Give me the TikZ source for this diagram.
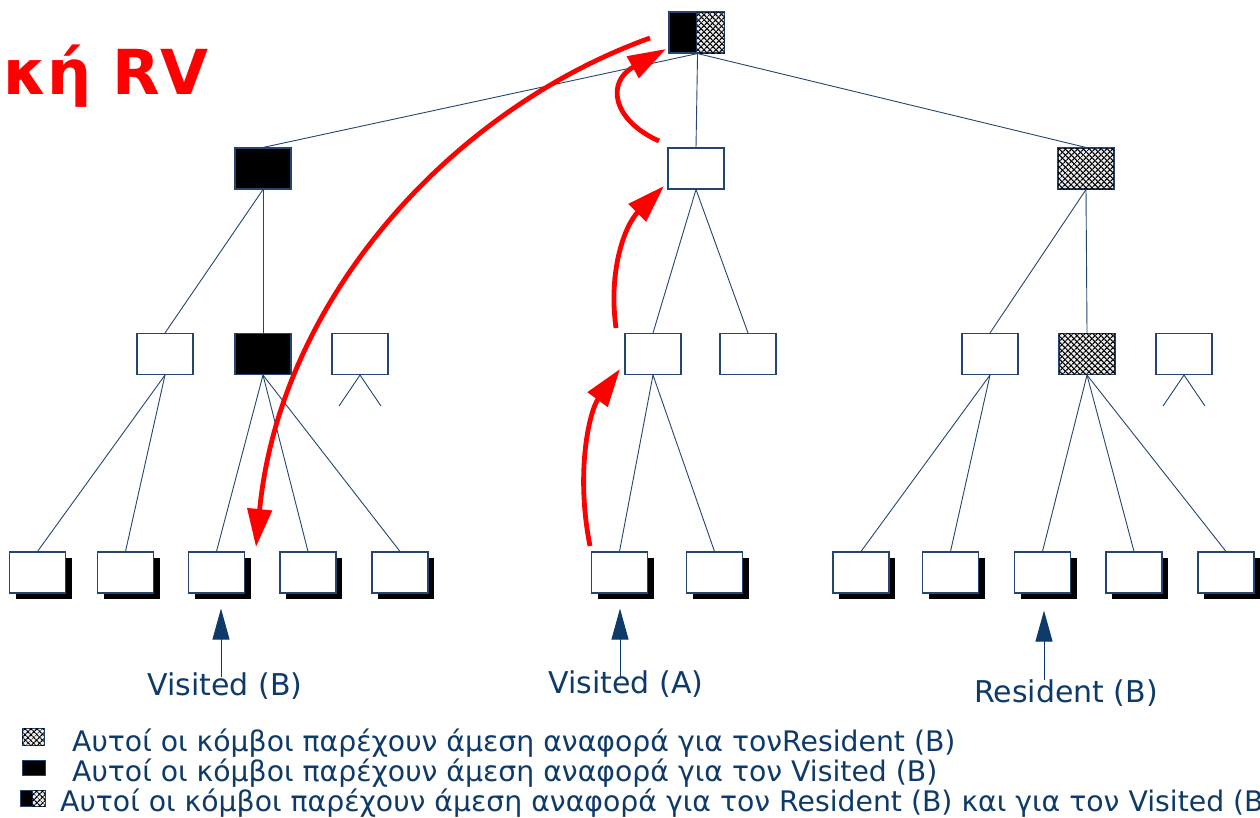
\documentclass[tikz,border=0pt]{standalone}
\usepackage{fontspec}
\setmainfont{DejaVu Sans}
\usetikzlibrary{arrows.meta,shadows,patterns.meta}
\definecolor{navy}{HTML}{0E3A6A}
\definecolor{edgeblue}{HTML}{24456F}

\begin{document}
\begin{tikzpicture}[x=1pt,y=-1pt,
  box/.style={draw=edgeblue,line width=1.1pt,fill=white,minimum width=56pt,minimum height=41pt,inner sep=0pt},
  blackbox/.style={box,fill=black},
  hatchbox/.style={box,fill=gray!15,postaction={pattern={Lines[angle=45,distance=4pt,line width=1.3pt]}},
    postaction={pattern={Lines[angle=-45,distance=4pt,line width=1.3pt]}}},
  leaf/.style={box,drop shadow={shadow xshift=6pt,shadow yshift=-6pt,shadow scale=1,fill=black,opacity=1}},
  edge/.style={draw=edgeblue,line width=0.9pt},
  hop/.style={draw=red,line width=4.8pt,-{Triangle[length=38pt,width=24pt]}},
  ptr/.style={draw=navy,line width=1pt,-{Triangle[length=31pt,width=17pt]}},
  lbl/.style={text=navy,inner sep=0pt,font=\fontsize{30}{36}\selectfont},
  note/.style={text=navy,inner sep=0pt,anchor=base west,font=\fontsize{28.3}{32}\selectfont}]
  \useasboundingbox (0,0) rectangle (1260,817);
  \clip (0,0) rectangle (1260,817);

  \node[text=red,anchor=west,inner sep=0pt,font=\fontsize{62}{70}\selectfont\bfseries] (ttl) at (3,76) {κή RV};

  % root, half black half hatched
  \node[blackbox,minimum width=28pt] (rootb) at (683,32.5) {};
  \node[hatchbox,minimum width=28pt] (rooth) at (710.5,32.5) {};
  \coordinate (root) at (rootb.south east);

  % level 1
  \node[blackbox] (a) at (263,168.5) {};
  \node[box] (b) at (696,168.5) {};
  \node[hatchbox] (c) at (1086,168.5) {};

  % level 2
  \node[box] (a1) at (165,354) {};
  \node[blackbox] (a2) at (263,354) {};
  \node[box] (a3) at (360,354) {};
  \node[box] (b1) at (653,354) {};
  \node[box] (b2) at (748,354) {};
  \node[box] (c1) at (990,354) {};
  \node[hatchbox] (c2) at (1087,354) {};
  \node[box] (c3) at (1184,354) {};

  % leaves
  \node[leaf] (a11) at (37.5,572.5) {};
  \node[leaf] (a12) at (125.5,572.5) {};
  \node[leaf] (a21) at (216.5,572.5) {};
  \node[leaf] (a22) at (308,572.5) {};
  \node[leaf] (a23) at (400,572.5) {};
  \node[leaf] (b11) at (619.5,572.5) {};
  \node[leaf] (b12) at (714.5,572.5) {};
  \node[leaf] (c11) at (861,572.5) {};
  \node[leaf] (c12) at (950.5,572.5) {};
  \node[leaf] (c21) at (1042.5,572.5) {};
  \node[leaf] (c22) at (1134,572.5) {};
  \node[leaf] (c23) at (1226,572.5) {};

  \draw[edge] (root) -- (a.north);
  \draw[edge] (root) -- (b.north);
  \draw[edge] (root) -- (c.north);
  \draw[edge] (a.south) -- (a1.north);
  \draw[edge] (a.south) -- (a2.north);
  \draw[edge] (b.south) -- (b1.north);
  \draw[edge] (b.south) -- (b2.north);
  \draw[edge] (c.south) -- (c1.north);
  \draw[edge] (c.south) -- (c2.north);
  \draw[edge] (a1.south) -- (a11.north);
  \draw[edge] (a1.south) -- (a12.north);
  \draw[edge] (a2.south) -- (a21.north);
  \draw[edge] (a2.south) -- (a22.north);
  \draw[edge] (a2.south) -- (a23.north);
  \draw[edge] (b1.south) -- (b11.north);
  \draw[edge] (b1.south) -- (b12.north);
  \draw[edge] (c1.south) -- (c11.north);
  \draw[edge] (c1.south) -- (c12.north);
  \draw[edge] (c2.south) -- (c21.north);
  \draw[edge] (c2.south) -- (c22.north);
  \draw[edge] (c2.south) -- (c23.north);
  % subtrees not shown
  \draw[edge] (a3.south) -- ++(-21,31);
  \draw[edge] (a3.south) -- ++(21,31);
  \draw[edge] (c3.south) -- ++(-21,31);
  \draw[edge] (c3.south) -- ++(21,31);

  % red hops
  \draw[hop] (650,38) .. controls (450,110) and (280,300) .. (256,547);
  \draw[hop] (659,141) .. controls (612,120) and (606,82) .. (666,49);
  \draw[hop] (616,328) .. controls (608,270) and (625,225) .. (664,186);
  \draw[hop] (590,546) .. controls (575,470) and (590,410) .. (620,369);

  % pointers
  \node[lbl] (vb) at (225,686) {Visited (B)};
  \node[lbl] (va) at (626,684) {Visited (A)};
  \node[lbl] (rb) at (1066,693) {Resident (B)};
  \draw[ptr] ([xshift=-4pt,yshift=-5pt]vb.north) -- ([xshift=4.5pt,yshift=-15pt]a21.south);
  \draw[ptr] ([xshift=-6pt,yshift=-8pt]va.north) -- ([xshift=0.5pt,yshift=-15pt]b11.south);
  \draw[ptr] ([xshift=-22pt,yshift=-1pt]rb.north) -- ([xshift=1.5pt,yshift=-17pt]c21.south);

  % legend
  \node[hatchbox,minimum width=22pt,minimum height=17pt,line width=0.6pt] (k1) at (33,737) {};
  \node[blackbox,minimum width=23pt,minimum height=15pt,line width=0.6pt] (k2) at (33.5,768) {};
  \node[blackbox,minimum width=12pt,minimum height=16pt,line width=0.6pt] (k3b) at (26,798) {};
  \node[hatchbox,minimum width=13pt,minimum height=16pt,line width=0.6pt] (k3h) at (38.5,798) {};
  \node[note] (n1) at (72,751) {Αυτοί οι κόμβοι παρέχουν άμεση αναφορά για τονResident (B)};
  \node[note] (n2) at (72,781) {Αυτοί οι κόμβοι παρέχουν άμεση αναφορά για τον Visited (B)};
  \node[note] (n3) at (60,811) {Αυτοί οι κόμβοι παρέχουν άμεση αναφορά για τον Resident (B) και για τον Visited (B)};
\end{tikzpicture}
\end{document}
